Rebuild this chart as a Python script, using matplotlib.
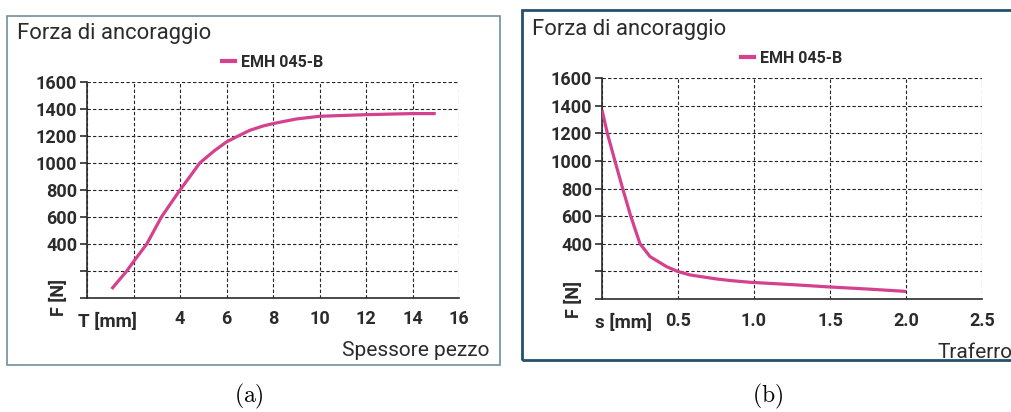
import matplotlib
matplotlib.use("Agg")
import matplotlib.pyplot as plt
from matplotlib.patches import Rectangle
from matplotlib.lines import Line2D

plt.rcParams['font.family'] = ['Roboto', 'DejaVu Sans']
plt.rcParams['mathtext.fontset'] = 'cm'

# panel (a): force vs workpiece thickness
a_thickness = [1.06, 1.71, 2, 2.57, 3.2, 4, 4.45, 4.85, 5.5, 6, 6.5, 7, 7.57, 8, 9, 10, 12, 14, 15]
a_force = [67, 200, 269, 400, 600, 800, 905, 1000, 1094, 1156, 1200, 1242, 1274, 1292,
           1326, 1346, 1358, 1366, 1366]
a_xticks = [0, 2, 4, 6, 8, 10, 12, 14, 16]
a_xlabels = ['', '', '4', '6', '8', '10', '12', '14', '16']

# panel (b): force vs air gap
b_gap = [0, 0.035, 0.085, 0.136, 0.189, 0.25, 0.316, 0.425, 0.502, 0.58, 0.754, 0.85,
         0.974, 1.25, 1.5, 1.75, 2.0]
b_force = [1369, 1200, 1000, 800, 600, 400, 307, 234, 198, 174, 145, 133,
           121, 104, 87, 72, 55]
b_xticks = [0, 0.5, 1.0, 1.5, 2.0, 2.5]
b_xlabels = ['', '0.5', '1.0', '1.5', '2.0', '2.5']

y_ticks = [0, 200, 400, 600, 800, 1000, 1200, 1400, 1600]
y_labels = ['', '', '400', '600', '800', '1000', '1200', '1400', '1600']

series_name = 'EMH 045-B'
PINK = '#d4418e'
TXT = '#2b2b2b'
W, H = 1011, 412


def fx(px):
    return px / W


def fy(py):
    return 1 - py / H


def draw_panel(fig, rect, xs, ys, xticks, xlabels, unit_label, unit_x, xlabel, xlabel_pos):
    ax = fig.add_axes(rect)
    ax.plot(xs, ys, color=PINK, lw=2.3, solid_capstyle='butt',
            solid_joinstyle='round', zorder=3)
    ax.set_xlim(xticks[0], xticks[-1])
    ax.set_ylim(0, 1600)
    ax.set_xticks(xticks)
    ax.set_xticklabels(xlabels)
    ax.set_yticks(y_ticks)
    ax.set_yticklabels(y_labels)
    ax.set_xticks([xticks[0], xticks[-1]], minor=True)
    ax.tick_params(axis='x', which='major', length=0, pad=9, labelsize=13,
                   labelcolor=TXT)
    ax.tick_params(axis='x', which='minor', length=5, width=1.2, color=TXT)
    ax.tick_params(axis='y', length=5, width=1.2, color=TXT, pad=2,
                   labelsize=13, labelcolor=TXT)
    for lab in ax.get_xticklabels() + ax.get_yticklabels():
        lab.set_fontweight('bold')
    ax.grid(True, which='major', color='#222222', lw=0.8, ls=(0, (3, 2)))
    for s in ['top', 'right']:
        ax.spines[s].set_visible(False)
    for s in ['left', 'bottom']:
        ax.spines[s].set_color(TXT)
        ax.spines[s].set_linewidth(1.2)
    ax.set_facecolor('none')

    ax.text(-0.075, 0, 'F [N]', transform=ax.get_yaxis_transform(), rotation=90,
            ha='center', va='center', fontsize=13, color=TXT, fontweight='bold')
    ax.text(unit_x, -0.11, unit_label, transform=ax.get_xaxis_transform(),
            ha='center', va='center', fontsize=13.5, color=TXT, fontweight='bold')

    handle = [Line2D([0], [0], color=PINK, lw=3, label=series_name)]
    ax.legend(handles=handle, loc='lower center', bbox_to_anchor=(0.5, 1.0),
              frameon=False, handlelength=0.8, handletextpad=0.4,
              borderaxespad=0.35, prop={'size': 11.5, 'weight': 'bold'},
              labelcolor=TXT)
    fig.text(fx(xlabel_pos[0]), fy(xlabel_pos[1]), xlabel, ha=xlabel_pos[2],
             va='center', fontsize=15, color=TXT)
    return ax


fig = plt.figure(figsize=(W / 100, H / 100), dpi=100)

# outer frames
fig.patches.append(Rectangle((fx(7), fy(365)), fx(493), 349 / H, transform=fig.transFigure,
                             fill=False, edgecolor='#6f8f9f', lw=1.2))
fig.patches.append(Rectangle((fx(522), fy(360)), fx(500), 350 / H, transform=fig.transFigure,
                             fill=False, edgecolor='#25506e', lw=2.0))

draw_panel(fig, [fx(87), fy(298), fx(372), 216 / H], a_thickness, a_force,
           a_xticks, a_xlabels, 'T [mm]', 0.9, 'Spessore pezzo', (490, 350, 'right'))
draw_panel(fig, [fx(602), fy(299), fx(380), 221 / H], b_gap, b_force,
           b_xticks, b_xlabels, 's [mm]', 0.14, 'Traferro', (938, 353, 'left'))

fig.text(fx(17), fy(33), 'Forza di ancoraggio', ha='left', va='center', fontsize=15.8, color=TXT)
fig.text(fx(532), fy(29), 'Forza di ancoraggio', ha='left', va='center', fontsize=15.8, color=TXT)

fig.text(fx(249), fy(396), r'$\mathrm{(a)}$', ha='center', va='center', fontsize=17)
fig.text(fx(768), fy(396), r'$\mathrm{(b)}$', ha='center', va='center', fontsize=17)

fig.savefig('out.png', dpi=100)
